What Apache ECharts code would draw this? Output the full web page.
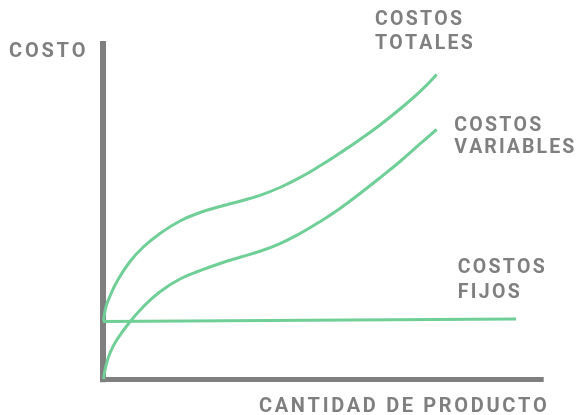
<!DOCTYPE html>
<html lang="es">
<head>
  <meta charset="UTF-8">
  <title>Costos</title>
  <style>
    html, body { margin: 0; padding: 0; background: #fff; }
    #chart { width: 579px; height: 415px; }
  </style>
</head>
<body>
  <div id="chart"></div>
  <script src="https://cdn.jsdelivr.net/npm/echarts@6/dist/echarts.min.js"></script>
  <script>
    // cantidad de producto (eje x, 0-100) y costo (eje y, 0-100)
    var cantidad = [0.11, 0.46, 0.91, 1.6, 3.13, 6.16, 9.2, 13.01, 17.57, 22.14, 26.7, 31.26, 35.83, 40.39, 44.96, 49.52, 54.08, 58.65, 63.21, 67.78, 72.33, 76.15];
    var costosVariables = [0.06, 2.74, 5.13, 7.82, 11.69, 17.15, 21.63, 26.1, 29.89, 32.37, 34.52, 36.37, 38.16, 40.48, 43.47, 46.99, 50.93, 55.4, 60.08, 64.95, 70.17, 74.49];
    var costosTotales = [17.36, 20.35, 22.58, 24.82, 29.0, 35.11, 39.44, 43.47, 47.2, 49.73, 51.52, 53.1, 54.86, 57.19, 60.17, 63.66, 67.48, 71.51, 75.84, 80.61, 85.77, 90.9];
    var fijosX = [0, 94.25];
    var costosFijos = [17.21, 17.96];

    var verde = '#6fcf97';
    var gris = '#7f7f7f';

    function pares(xs, ys) {
      return xs.map(function (x, i) { return [x, ys[i]]; });
    }

    // texto con espaciado entre letras, letra a letra
    var medidor = document.createElement('canvas').getContext('2d');
    function textoEspaciado(str, x, y, size, espacio) {
      var fuente = 'bold ' + size + 'px Roboto';
      medidor.font = fuente;
      var out = [];
      for (var i = 0; i < str.length; i++) {
        var ch = str[i];
        if (ch !== ' ') {
          out.push({
            type: 'text', x: x, y: y, silent: true,
            style: { text: ch, font: fuente, fill: gris, verticalAlign: 'middle', align: 'left' }
          });
        }
        x += medidor.measureText(ch).width + espacio;
      }
      return out;
    }

    var etiquetas = [].concat(
      textoEspaciado('COSTO', 9, 52, 20, 2.8),
      textoEspaciado('COSTOS', 375, 20.5, 19.5, 2.25),
      textoEspaciado('TOTALES', 375, 44.5, 19.5, 2.25),
      textoEspaciado('COSTOS', 454.3, 125.8, 19.5, 2.25),
      textoEspaciado('VARIABLES', 454.3, 148.5, 19.5, 2.1),
      textoEspaciado('COSTOS', 457.7, 268, 19.5, 2.25),
      textoEspaciado('FIJOS', 457.7, 292.8, 19.5, 2.35),
      textoEspaciado('CANTIDAD DE PRODUCTO', 259, 406.6, 20, 2.65)
    );

    var chart = echarts.init(document.getElementById('chart'));
    var lineaComun = {
      type: 'line', smooth: 0.45, showSymbol: false, symbol: 'none',
      lineStyle: { color: verde, width: 3 }
    };

    chart.setOption({
      animation: false,
      grid: { left: 103, top: 44, right: 37.8, bottom: 35.8 },
      xAxis: {
        type: 'value', min: 0, max: 100,
        axisLine: { show: true, lineStyle: { color: gris, width: 5, cap: 'square' } },
        axisTick: { show: false }, axisLabel: { show: false }, splitLine: { show: false }
      },
      yAxis: {
        type: 'value', min: 0, max: 100,
        axisLine: { show: true, lineStyle: { color: gris, width: 6, cap: 'square' } },
        axisTick: { show: false }, axisLabel: { show: false }, splitLine: { show: false }
      },
      graphic: etiquetas,
      series: [
        Object.assign({ name: 'Costos fijos', data: pares(fijosX, costosFijos) }, lineaComun, { smooth: false }),
        Object.assign({ name: 'Costos variables', data: pares(cantidad, costosVariables) }, lineaComun),
        Object.assign({ name: 'Costos totales', data: pares(cantidad, costosTotales) }, lineaComun)
      ]
    });
  </script>
</body>
</html>
